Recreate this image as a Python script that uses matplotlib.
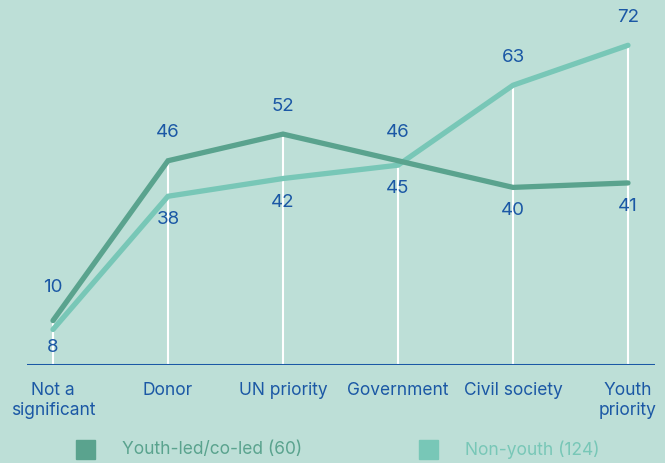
import numpy as np
import matplotlib
matplotlib.use('Agg')
import matplotlib.pyplot as plt

# data
categories = ['Not a\nsignificant', 'Donor', 'UN priority', 'Government', 'Civil society', 'Youth\npriority']
youth_led = [10, 46, 52, 46, 40, 41]
non_youth = [8, 38, 42, 45, 63, 72]
legend_labels = ['Youth-led/co-led (60)', 'Non-youth (124)']

bg = '#bddfd7'
dark = '#5aa38e'
light = '#78c7b7'
blue = '#1b58a5'

plt.rcParams['font.family'] = ['Inter', 'DejaVu Sans']

W, H = 665, 463
fig = plt.figure(figsize=(W / 100, H / 100), dpi=100, facecolor=bg)
ax = fig.add_axes([27 / W, 98 / H, 628 / W, 365 / H])
ax.set_facecolor(bg)

x = np.arange(len(categories))

# white vertical guides from the baseline up to the higher point
tops = np.maximum(youth_led, non_youth)
ax.vlines(x, 0, tops, color='white', lw=1.5, zorder=1)

ax.plot(x, non_youth, color=light, lw=3.8, solid_capstyle='round', solid_joinstyle='miter', zorder=2)
ax.plot(x, youth_led, color=dark, lw=3.8, solid_capstyle='round', solid_joinstyle='miter', zorder=3)

ax.axhline(0, color=blue, lw=2.2, zorder=4)

# value labels: the higher one above, the lower one below
for i in range(len(categories)):
    a, b = youth_led[i], non_youth[i]
    hi, lo = max(a, b), min(a, b)
    up = 24 if hi < 15 else 20
    ax.annotate(str(hi), (x[i], hi), xytext=(0, up), textcoords='offset points',
                ha='center', va='center', color=blue, fontsize=13.5)
    dy = -13 if lo < 15 else -17
    ax.annotate(str(lo), (x[i], lo), xytext=(0, dy), textcoords='offset points',
                ha='center', va='center', color=blue, fontsize=13.5)

ax.set_xlim(-26 / 115, 5 + 27 / 115)
ax.set_ylim(0, 82.2)
ax.set_xticks(x)
ax.set_xticklabels(categories, color=blue, fontsize=12.5, linespacing=1.25)
ax.tick_params(axis='x', length=0, pad=12)
ax.set_yticks([])
for s in ax.spines.values():
    s.set_visible(False)

# legend
fig.patches.append(plt.Rectangle((76 / W, 1 - 459 / H), 19 / W, 19 / H, color=dark, transform=fig.transFigure))
fig.patches.append(plt.Rectangle((419 / W, 1 - 459 / H), 19 / W, 19 / H, color=light, transform=fig.transFigure))
fig.text(122 / W, 1 - 450 / H, legend_labels[0], color=dark, fontsize=12.5, va='center')
fig.text(465 / W, 1 - 450 / H, legend_labels[1], color=light, fontsize=12.5, va='center')

fig.savefig('out.png', dpi=100, facecolor=bg)
